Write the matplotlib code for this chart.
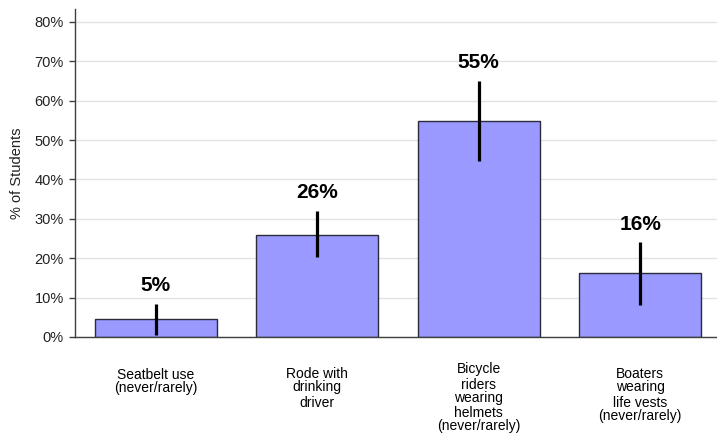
import matplotlib
matplotlib.use("Agg")
import matplotlib.pyplot as plt

plt.rcParams['font.family'] = ['Liberation Sans', 'DejaVu Sans']

# data
categories = ["Seatbelt use", "Rode with drinking driver",
              "Bicycle riders wearing helmets", "Boaters wearing life vests"]
values = [4.6, 26.0, 54.8, 16.3]
err_low = [0.5, 20.3, 44.6, 8.2]
err_high = [8.4, 32.1, 65.0, 24.0]
value_labels = ["5%", "26%", "55%", "16%"]

# wrapped category labels, line by line (as drawn in the reference)
label_lines = [
    ["Seatbelt use", "(never/rarely)"],
    ["Rode with", "drinking", "driver"],
    ["Bicycle", "riders", "wearing", "helmets", "(never/rarely)"],
    ["Boaters", "wearing", "life vests", "(never/rarely)"],
]
# baseline distance (px) below the x axis for each line
label_offsets = [
    [42, 55],
    [41, 54, 70],
    [36, 52, 65, 80, 93],
    [41, 54, 70, 83],
]

yticks = [0, 10, 20, 30, 40, 50, 60, 70, 80]

fig = plt.figure(figsize=(7.17, 4.41), dpi=100)
ax = fig.add_axes([75 / 717, 1 - 337 / 441, 642 / 717, 328 / 441])

xs = list(range(len(categories)))
ax.bar(xs, values, width=0.755, color="#9999ff", edgecolor="#2b2b3a",
       linewidth=1.0, zorder=2)

# error bars (no caps)
for x, lo, hi in zip(xs, err_low, err_high):
    ax.plot([x, x], [lo, hi], color="black", linewidth=2.3,
            solid_capstyle="butt", zorder=3)

# value labels above error bars
for x, hi, lab in zip(xs, err_high, value_labels):
    ax.annotate(lab, xy=(x, hi), xytext=(0, 13), textcoords="offset points",
                ha="center", va="center", fontsize=15, fontweight="bold",
                color="black")

# category labels
for x, lines, offs in zip(xs, label_lines, label_offsets):
    for line, off in zip(lines, offs):
        ax.annotate(line, xy=(x, 0), xycoords=("data", "axes fraction"),
                    xytext=(0, -off * 0.72), textcoords="offset points",
                    ha="center", va="baseline", fontsize=10, color="black",
                    annotation_clip=False)

ax.set_xlim(-0.5, 3.475)
ax.set_ylim(0, 83.25)
ax.set_xticks([])
ax.set_yticks(yticks)
ax.set_yticklabels([f"{t}%" for t in yticks], fontsize=10.5, color="#222222")
ax.tick_params(axis="y", length=4, width=1, color="#404040", pad=4)

ax.yaxis.grid(True, color="#e2e2e2", linewidth=1.0, zorder=0)
ax.set_axisbelow(True)

for side in ["top", "right"]:
    ax.spines[side].set_visible(False)
for side in ["left", "bottom"]:
    ax.spines[side].set_color("#404040")
    ax.spines[side].set_linewidth(1.0)

ax.set_ylabel("% of Students", fontsize=10.5, color="#222222")
ax.yaxis.set_label_coords(-0.08, 0.5)

fig.savefig("out.png", dpi=100)
